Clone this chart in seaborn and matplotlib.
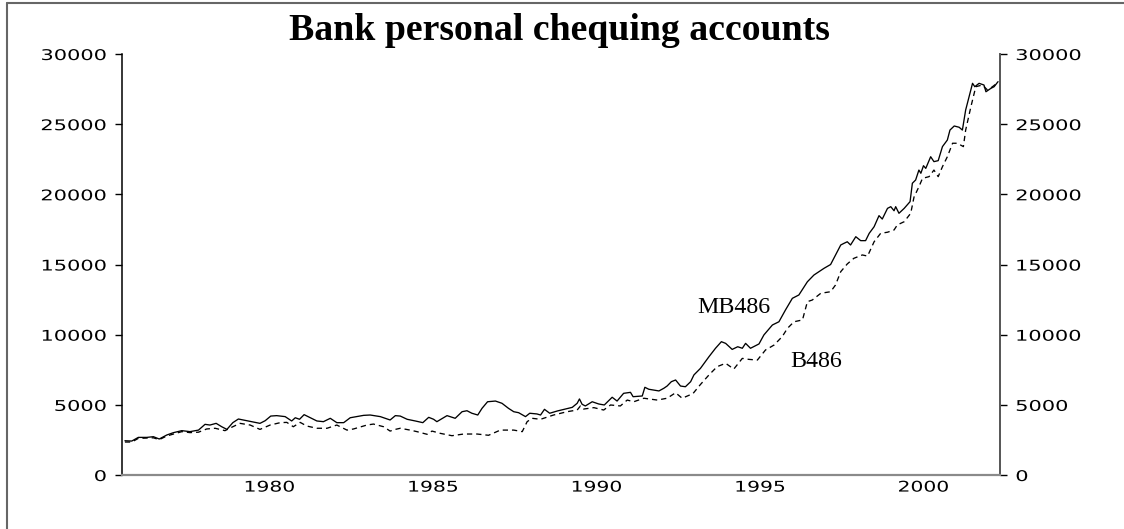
import matplotlib
matplotlib.use("Agg")
import matplotlib.pyplot as plt
import numpy as np
import pandas as pd
import seaborn as sns
from matplotlib.lines import Line2D
from matplotlib.patheffects import AbstractPathEffect
from matplotlib.transforms import Affine2D

# ---- data (decimal year, millions of dollars) ----
mb486_time = [
    1976.08, 1976.29, 1976.49, 1976.75, 1976.95, 1977.13, 1977.36, 1977.56, 1977.82,
    1978.07, 1978.33, 1978.53, 1978.68, 1978.87, 1979.04, 1979.20, 1979.38, 1979.55,
    1979.81, 1980.21, 1980.37, 1980.54, 1980.72, 1980.98, 1981.18, 1981.29, 1981.42,
    1981.56, 1981.75, 1981.95, 1982.15, 1982.36, 1982.56, 1982.77, 1982.97, 1983.38,
    1983.58, 1983.89, 1984.19, 1984.35, 1984.50, 1984.71, 1984.96, 1985.19, 1985.37,
    1985.52, 1985.62, 1985.93, 1986.18, 1986.39, 1986.54, 1986.69, 1986.87, 1987.00,
    1987.17, 1987.41, 1987.61, 1987.81, 1987.97, 1988.12, 1988.33, 1988.46, 1988.68,
    1988.79, 1988.91, 1989.07, 1989.30, 1989.55, 1989.76, 1989.91, 1989.98, 1990.06,
    1990.16, 1990.37, 1990.57, 1990.74, 1990.98, 1991.13, 1991.33, 1991.54, 1991.62,
    1991.90, 1991.98, 1992.10, 1992.41, 1992.56, 1992.66, 1992.79, 1992.92, 1993.07,
    1993.22, 1993.38, 1993.48, 1993.68, 1993.94, 1994.14, 1994.32, 1994.45, 1994.65,
    1994.82, 1994.96, 1995.06, 1995.21, 1995.47, 1995.62, 1995.88, 1996.08, 1996.28,
    1996.49, 1996.69, 1996.95, 1997.15, 1997.46, 1997.66, 1997.81, 1997.97, 1998.07,
    1998.17, 1998.27, 1998.43, 1998.58, 1998.73, 1998.84, 1998.99, 1999.14, 1999.24,
    1999.40, 1999.50, 1999.60, 1999.65, 1999.75, 1999.91, 2000.09, 2000.16, 2000.26,
    2000.36, 2000.42, 2000.50, 2000.57, 2000.72, 2000.82, 2000.95, 2001.08, 2001.23,
    2001.31, 2001.44, 2001.59, 2001.69, 2001.79, 2002.00, 2002.07, 2002.20, 2002.35,
    2002.41, 2002.56, 2002.66, 2002.78,
]
mb486_value = [
    2440, 2420, 2680, 2680, 2730, 2565, 2850, 3015, 3160,
    3090, 3200, 3610, 3560, 3680, 3440, 3250, 3730, 3990,
    3870, 3680, 3870, 4200, 4230, 4160, 3850, 4080, 3970,
    4300, 4080, 3850, 3800, 4040, 3730, 3730, 4080, 4250,
    4275, 4160, 3920, 4230, 4200, 3970, 3850, 3730, 4110,
    3970, 3800, 4230, 4040, 4510, 4580, 4400, 4275, 4750,
    5220, 5270, 5110, 4750, 4510, 4440, 4160, 4400, 4350,
    4275, 4680, 4400, 4560, 4700, 4820, 5110, 5420, 5040,
    4920, 5220, 5060, 4990, 5540, 5270, 5820, 5890, 5580,
    5630, 6250, 6110, 5990, 6180, 6340, 6650, 6770, 6340,
    6290, 6650, 7130, 7600, 8430, 9030, 9500, 9380, 8950,
    9140, 9030, 9380, 9030, 9340, 9980, 10690, 10920, 11760,
    12590, 12830, 13770, 14250, 14730, 15000, 15680, 16390, 16510,
    16620, 16390, 16980, 16700, 16700, 17220, 17690, 18480, 18240,
    19000, 19120, 18830, 19120, 18650, 19000, 19480, 20790, 21020,
    21730, 21500, 22040, 21850, 22680, 22330, 22400, 23400, 23870,
    24580, 24870, 24780, 24580, 26010, 27910, 27670, 27910, 27790,
    27310, 27550, 27670, 28030,
]

b486_time = [
    1976.08, 1976.29, 1976.49, 1976.95, 1977.13, 1977.36, 1977.82, 1978.07, 1978.33,
    1978.58, 1978.84, 1979.14, 1979.38, 1979.60, 1979.91, 1980.21, 1980.52, 1980.83,
    1981.03, 1981.23, 1981.44, 1981.64, 1981.95, 1982.26, 1982.56, 1982.87, 1983.07,
    1983.48, 1983.68, 1983.99, 1984.19, 1984.35, 1984.50, 1984.80, 1985.01, 1985.32,
    1985.47, 1985.72, 1986.08, 1986.44, 1986.85, 1987.20, 1987.56, 1987.97, 1988.23,
    1988.38, 1988.53, 1988.79, 1989.19, 1989.60, 1989.91, 1990.01, 1990.11, 1990.42,
    1990.72, 1990.93, 1991.23, 1991.44, 1991.64, 1991.95, 1992.36, 1992.66, 1992.92,
    1993.12, 1993.45, 1993.68, 1993.94, 1994.19, 1994.45, 1994.70, 1994.96, 1995.16,
    1995.42, 1995.67, 1995.93, 1996.18, 1996.34, 1996.54, 1996.80, 1996.95, 1997.10,
    1997.36, 1997.66, 1997.81, 1997.97, 1998.17, 1998.37, 1998.63, 1998.79, 1998.99,
    1999.19, 1999.40, 1999.60, 1999.70, 1999.91, 2000.11, 2000.21, 2000.36, 2000.47,
    2000.67, 2000.82, 2000.95, 2001.08, 2001.23, 2001.39, 2001.54, 2001.72, 2001.79,
    2001.95, 2002.10, 2002.30, 2002.46, 2002.61, 2002.78,
]
b486_value = [
    2350, 2350, 2610, 2650, 2520, 2780, 3090, 3020, 3050,
    3280, 3330, 3160, 3440, 3680, 3560, 3250, 3560, 3730,
    3750, 3440, 3750, 3490, 3330, 3330, 3560, 3200, 3280,
    3560, 3630, 3440, 3130, 3250, 3330, 3200, 3090, 2900,
    3130, 2970, 2800, 2920, 2920, 2830, 3200, 3200, 3090,
    3800, 4040, 3970, 4275, 4510, 4630, 4920, 4700, 4800,
    4630, 4990, 4920, 5340, 5220, 5470, 5340, 5470, 5860,
    5470, 5800, 6450, 7130, 7720, 7960, 7550, 8310, 8240,
    8190, 8910, 9260, 9860, 10450, 10920, 11050, 12350, 12470,
    12950, 13060, 13540, 14490, 15040, 15440, 15680, 15600, 16620,
    17220, 17300, 17460, 17820, 18050, 18650, 19800, 20540, 21140,
    21260, 21730, 21260, 21970, 22680, 23640, 23640, 23400, 24580,
    26240, 27670, 27790, 27430, 27670, 27980,
]

series_names = ["MB486", "B486"]
title_text = "Bank personal chequing accounts"
y_ticks = [0, 5000, 10000, 15000, 20000, 25000, 30000]
year_ticks = list(range(1976, 2003))
labelled_years = [1980, 1985, 1990, 1995, 2000]
year_labels = [str(y) for y in labelled_years]
x_range = (1976.0, 2002.84)

# ---- long-form table for seaborn ----
df = pd.concat([
    pd.DataFrame({"time": mb486_time, "value": mb486_value, "series": series_names[0]}),
    pd.DataFrame({"time": b486_time, "value": b486_value, "series": series_names[1]}),
], ignore_index=True)


class Widen(AbstractPathEffect):
    """Stretch glyph outlines horizontally around one edge of the text."""

    def __init__(self, sx=1.4, anchor="center"):
        super().__init__()
        self.sx = sx
        self.anchor = anchor

    def draw_path(self, renderer, gc, tpath, affine, rgbFace=None):
        ext = tpath.get_extents(affine)
        if self.anchor == "right":
            x0 = ext.x1
        elif self.anchor == "left":
            x0 = ext.x0
        else:
            x0 = 0.5 * (ext.x0 + ext.x1)
        stretch = Affine2D().translate(-x0, 0).scale(self.sx, 1.0).translate(x0, 0)
        renderer.draw_path(gc, tpath, affine + stretch, rgbFace)


sns.set_style("white")
plt.rcParams["font.family"] = ["DejaVu Sans"]

W, H = 1124, 529
fig = plt.figure(figsize=(W / 100, H / 100), dpi=100)
fig.patch.set_facecolor("white")

ax_left, ax_right, ax_top, ax_bottom = 122.3, 1000.0, 54.0, 475.0
ax = fig.add_axes([ax_left / W, 1 - ax_bottom / H, (ax_right - ax_left) / W, (ax_bottom - ax_top) / H])

sns.lineplot(
    data=df, x="time", y="value", hue="series", style="series",
    palette={"MB486": "black", "B486": "black"},
    dashes={"MB486": "", "B486": (4, 3)},
    estimator=None, errorbar=None, sort=True, legend=False,
    linewidth=0.95, ax=ax,
)

ax.set_xlim(*x_range)
ax.set_ylim(y_ticks[0], y_ticks[-1])
ax.set_xlabel("")
ax.set_ylabel("")

# y axis on both sides
ax.set_yticks(y_ticks)
ax.set_yticklabels([str(v) for v in y_ticks])
ax.tick_params(axis="y", which="major", direction="out", length=5, width=1,
               left=True, right=True, labelleft=True, labelright=True,
               pad=6.3, labelsize=10.6, colors="black")

# x axis: a tick at each year boundary, labels centred within the year
ax.set_xticks(year_ticks)
ax.set_xticklabels([])
ax.set_xticks([y + 0.5 for y in labelled_years], minor=True)
ax.set_xticklabels(year_labels, minor=True)
ax.tick_params(axis="x", which="major", direction="out", length=3, width=1, color="#777777")
ax.tick_params(axis="x", which="minor", length=0, pad=3.3, labelsize=10.6, labelcolor="black")

for sp in ("left", "right", "bottom"):
    ax.spines[sp].set_visible(True)
ax.spines["top"].set_visible(False)
ax.spines["left"].set_color("black")
ax.spines["left"].set_linewidth(1.1)
ax.spines["right"].set_color("#555555")
ax.spines["right"].set_linewidth(1.4)
ax.spines["bottom"].set_color("#8a8a8a")
ax.spines["bottom"].set_linewidth(1.6)
ax.grid(False)

for tick in ax.yaxis.get_major_ticks():
    tick.label1.set_path_effects([Widen(1.42, "right")])
    tick.label2.set_path_effects([Widen(1.42, "left")])
    tick.tick2line.set_color("#555555")
for tick in ax.xaxis.get_minor_ticks():
    tick.label1.set_path_effects([Widen(1.38, "center")])

# series names next to their lines
ax.text(1994.69, 11565, series_names[0], ha="center", va="baseline",
        fontfamily="Liberation Serif", fontsize=17.3, color="black")
ax.text(1997.23, 7717, series_names[1], ha="center", va="baseline",
        fontfamily="Liberation Serif", fontsize=17.3, color="black")

fig.text(559.5 / W, 1 - 40 / H, title_text, ha="center", va="baseline",
         fontfamily="Liberation Serif", fontweight="bold", fontsize=27.2, color="black")

# outer frame (left and top edges)
fig.add_artist(Line2D([7 / W, 7 / W], [0, 1 - 3 / H], transform=fig.transFigure,
                      color="#666666", linewidth=1.5))
fig.add_artist(Line2D([7 / W, 1], [1 - 3 / H, 1 - 3 / H], transform=fig.transFigure,
                      color="#666666", linewidth=1.5))

fig.savefig("out.png", dpi=100, facecolor="white")
